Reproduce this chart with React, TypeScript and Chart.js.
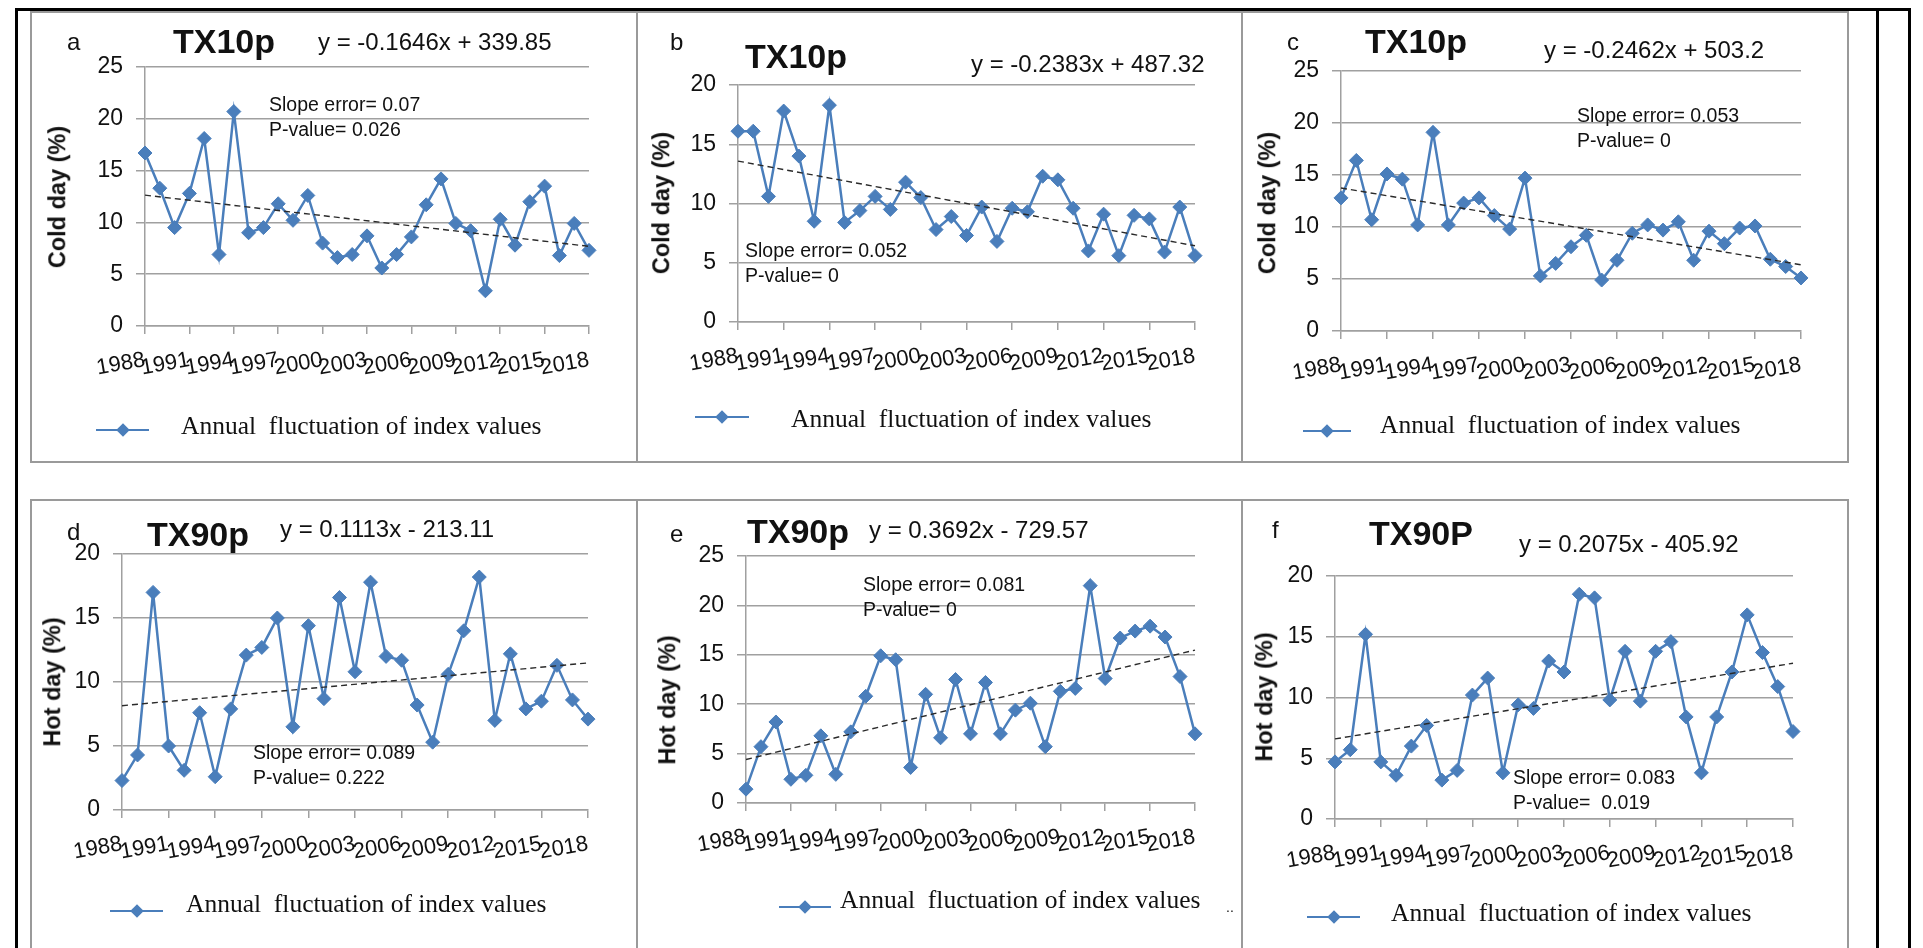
import React, { useEffect, useRef } from "react";
import { Chart, registerables } from "chart.js";
Chart.register(...registerables);

// ---------- DATA ----------
const years = [1988, 1989, 1990, 1991, 1992, 1993, 1994, 1995, 1996, 1997, 1998, 1999, 2000, 2001, 2002, 2003, 2004, 2005, 2006, 2007, 2008, 2009, 2010, 2011, 2012, 2013, 2014, 2015, 2016, 2017, 2018];

const coldA = [16.7, 13.3, 9.5, 12.8, 18.1, 6.9, 20.7, 9.0, 9.5, 11.8, 10.2, 12.6, 8.0, 6.6, 6.9, 8.7, 5.6, 6.9, 8.6, 11.7, 14.2, 9.9, 9.2, 3.4, 10.3, 7.8, 12.0, 13.5, 6.8, 9.9, 7.3];
const coldB = [16.1, 16.1, 10.6, 17.8, 14.0, 8.5, 18.3, 8.4, 9.4, 10.6, 9.5, 11.8, 10.5, 7.8, 8.9, 7.3, 9.7, 6.8, 9.6, 9.3, 12.3, 12.0, 9.6, 6.0, 9.1, 5.6, 9.0, 8.7, 5.9, 9.7, 5.6];
const coldC = [12.8, 16.4, 10.7, 15.1, 14.6, 10.2, 19.1, 10.2, 12.3, 12.8, 11.1, 9.8, 14.7, 5.3, 6.5, 8.1, 9.2, 4.9, 6.8, 9.4, 10.2, 9.7, 10.5, 6.8, 9.6, 8.4, 9.9, 10.1, 6.9, 6.2, 5.1];
const hotD = [2.3, 4.3, 17.0, 5.0, 3.1, 7.6, 2.6, 7.9, 12.1, 12.7, 15.0, 6.5, 14.4, 8.7, 16.6, 10.8, 17.8, 12.0, 11.7, 8.2, 5.3, 10.6, 14.0, 18.2, 7.0, 12.2, 7.9, 8.5, 11.3, 8.6, 7.1];
const hotE = [1.4, 5.7, 8.2, 2.4, 2.8, 6.8, 2.9, 7.2, 10.8, 14.9, 14.5, 3.6, 11.0, 6.6, 12.5, 7.0, 12.2, 7.0, 9.4, 10.1, 5.7, 11.3, 11.6, 22.0, 12.6, 16.7, 17.4, 17.9, 16.8, 12.8, 7.0];
const hotF = [4.7, 5.7, 15.2, 4.7, 3.6, 6.0, 7.7, 3.2, 4.0, 10.2, 11.6, 3.8, 9.4, 9.1, 13.0, 12.1, 18.5, 18.2, 9.8, 13.8, 9.7, 13.8, 14.6, 8.4, 3.8, 8.4, 12.1, 16.8, 13.7, 10.9, 7.2];

// linear trend values at first and last year
const trendA = [12.63, 7.69];
const trendB = [13.58, 6.43];
const trendC = [13.75, 6.37];
const trendD = [8.15, 11.49];
const trendE = [4.4, 15.48];
const trendF = [6.59, 12.82];

const yMaxes = [25, 20, 25, 20, 25, 20];

// ---------- STYLE ----------
const BLUE = "#4a7ebb";
const GRID = "#a0a0a0";
const SANS = "'Liberation Sans', Arial, sans-serif";
const SERIF = "'Liberation Serif', 'Times New Roman', serif";

type Panel = {
  box: { x: number; y: number; w: number; h: number };
  area: { l: number; r: number; t: number; b: number };
  yMax: number;
  values: number[];
  trend: number[];
  letter: string; letterPos: number[];
  title: string; titlePos: number[];
  eq: string; eqPos: number[];
  stats: string[]; statsPos: number[];
  yTitle: string; yTitlePos: number[];
  legendLine: number[]; legendText: number[];
};

const panels: Panel[] = [
  {
    box: { x: 30, y: 11, w: 608, h: 452 }, area: { l: 145, r: 589, t: 67, b: 326 }, yMax: yMaxes[0], values: coldA, trend: trendA,
    letter: "a", letterPos: [67, 50], title: "TX10p", titlePos: [173, 53], eq: "y = -0.1646x + 339.85", eqPos: [318, 50],
    stats: ["Slope error= 0.07", "P-value= 0.026"], statsPos: [269, 112], yTitle: "Cold day (%)", yTitlePos: [58, 197],
    legendLine: [96, 149, 430], legendText: [181, 435],
  },
  {
    box: { x: 636, y: 11, w: 607, h: 452 }, area: { l: 738, r: 1195, t: 85, b: 322 }, yMax: yMaxes[1], values: coldB, trend: trendB,
    letter: "b", letterPos: [670, 50], title: "TX10p", titlePos: [745, 68], eq: "y = -0.2383x + 487.32", eqPos: [971, 72],
    stats: ["Slope error= 0.052", "P-value= 0"], statsPos: [745, 258], yTitle: "Cold day (%)", yTitlePos: [662, 203],
    legendLine: [695, 749, 417], legendText: [791, 428],
  },
  {
    box: { x: 1241, y: 11, w: 608, h: 452 }, area: { l: 1341, r: 1801, t: 71, b: 331 }, yMax: yMaxes[2], values: coldC, trend: trendC,
    letter: "c", letterPos: [1287, 50], title: "TX10p", titlePos: [1365, 53], eq: "y = -0.2462x + 503.2", eqPos: [1544, 58],
    stats: ["Slope error= 0.053", "P-value= 0"], statsPos: [1577, 123], yTitle: "Cold day (%)", yTitlePos: [1268, 203],
    legendLine: [1303, 1351, 431], legendText: [1380, 434],
  },
  {
    box: { x: 30, y: 499, w: 608, h: 470 }, area: { l: 122, r: 588, t: 554, b: 810 }, yMax: yMaxes[3], values: hotD, trend: trendD,
    letter: "d", letterPos: [67, 540], title: "TX90p", titlePos: [147, 546], eq: "y = 0.1113x - 213.11", eqPos: [280, 537],
    stats: ["Slope error= 0.089", "P-value= 0.222"], statsPos: [253, 760], yTitle: "Hot day (%)", yTitlePos: [53, 682],
    legendLine: [110, 163, 911], legendText: [186, 913],
  },
  {
    box: { x: 636, y: 499, w: 607, h: 470 }, area: { l: 746, r: 1195, t: 556, b: 803 }, yMax: yMaxes[4], values: hotE, trend: trendE,
    letter: "e", letterPos: [670, 542], title: "TX90p", titlePos: [747, 543], eq: "y = 0.3692x - 729.57", eqPos: [869, 538],
    stats: ["Slope error= 0.081", "P-value= 0"], statsPos: [863, 592], yTitle: "Hot day (%)", yTitlePos: [668, 700],
    legendLine: [779, 831, 907], legendText: [840, 909],
  },
  {
    box: { x: 1241, y: 499, w: 608, h: 470 }, area: { l: 1335, r: 1793, t: 576, b: 819 }, yMax: yMaxes[5], values: hotF, trend: trendF,
    letter: "f", letterPos: [1272, 538], title: "TX90P", titlePos: [1369, 545], eq: "y = 0.2075x - 405.92", eqPos: [1519, 552],
    stats: ["Slope error= 0.083", "P-value=  0.019"], statsPos: [1513, 785], yTitle: "Hot day (%)", yTitlePos: [1265, 697],
    legendLine: [1307, 1360, 917], legendText: [1391, 922],
  },
];

const CANVAS_H = 448;

function PanelChart({ p }: { p: Panel }) {
  const ref = useRef<HTMLCanvasElement | null>(null);
  const ox = p.box.x + 2;
  const oy = p.box.y + 2;
  const cw = p.box.w - 4;
  useEffect(() => {
    if (!ref.current) return;
    const L = p.area.l - ox;
    const R = p.area.r - ox;
    const T = p.area.t - oy;
    const B = p.area.b - oy;
    const chart = new Chart(ref.current, {
      type: "line",
      data: {
        datasets: [
          {
            data: p.trend.map((v, i) => ({ x: i === 0 ? years[0] : years[years.length - 1], y: v })),
            borderColor: "#2a2a2a",
            borderWidth: 1.4,
            borderDash: [6, 4],
            pointRadius: 0,
            tension: 0,
            clip: false as any,
            order: 0,
          },
          {
            data: years.map((x, i) => ({ x, y: p.values[i] })),
            borderColor: BLUE,
            backgroundColor: BLUE,
            borderWidth: 2.5,
            pointStyle: "rectRot",
            pointRadius: 7,
            pointBorderWidth: 1,
            pointBackgroundColor: BLUE,
            pointBorderColor: BLUE,
            tension: 0,
            clip: false as any,
            order: 1,
          },
        ],
      },
      options: {
        responsive: false,
        animation: false,
        layout: { padding: { left: 0, top: T, right: cw - R, bottom: 0 } },
        plugins: { legend: { display: false }, tooltip: { enabled: false } },
        scales: {
          x: {
            type: "linear",
            min: years[0],
            max: years[years.length - 1],
            ticks: {
              stepSize: 3,
              autoSkip: false,
              minRotation: 10,
              maxRotation: 10,
              padding: 13,
              font: { family: SANS, size: 22 },
              color: "#111",
              callback: (v: any) => String(v),
            },
            grid: { drawOnChartArea: false, drawTicks: true, tickLength: 8, color: GRID, lineWidth: 1.5 },
            border: { color: GRID, width: 1.5 },
            afterFit: (s: any) => {
              s.height = CANVAS_H - B;
              s.paddingLeft = 0;
              s.paddingRight = 0;
            },
          },
          y: {
            min: 0,
            max: p.yMax,
            ticks: { stepSize: 5, padding: 13, font: { family: SANS, size: 23 }, color: "#111" },
            grid: { color: GRID, lineWidth: 1.5, tickLength: 9 },
            border: { color: GRID, width: 1.5 },
            afterFit: (s: any) => {
              s.width = L;
              s.paddingTop = 0;
              s.paddingBottom = 0;
            },
          },
        },
      } as any,
    });
    return () => chart.destroy();
  }, []);
  return (
    <canvas
      ref={ref}
      width={cw}
      height={CANVAS_H}
      style={{ position: "absolute", left: ox, top: oy, width: cw, height: CANVAS_H }}
    />
  );
}

function Txt({ x, base, size, text, bold, family }: { x: number; base: number; size: number; text: string; bold?: boolean; family?: string }) {
  return (
    <div
      style={{
        position: "absolute",
        left: x,
        top: base - 0.85 * size,
        fontSize: size,
        lineHeight: 1,
        fontFamily: family || SANS,
        fontWeight: bold ? 700 : 400,
        whiteSpace: "pre",
        color: "#111",
      }}
    >
      {text}
    </div>
  );
}

function PanelView({ p }: { p: Panel }) {
  const [l1, l2, ly] = p.legendLine;
  return (
    <>
      <div
        style={{
          position: "absolute",
          left: p.box.x,
          top: p.box.y,
          width: p.box.w,
          height: p.box.h,
          border: "2px solid #9a9a9a",
          boxSizing: "border-box",
        }}
      />
      <PanelChart p={p} />
      <Txt x={p.letterPos[0]} base={p.letterPos[1]} size={24} text={p.letter} />
      <Txt x={p.titlePos[0]} base={p.titlePos[1]} size={34} text={p.title} bold />
      <Txt x={p.eqPos[0]} base={p.eqPos[1]} size={24} text={p.eq} />
      <Txt x={p.statsPos[0]} base={p.statsPos[1]} size={19.5} text={p.stats[0]} />
      <Txt x={p.statsPos[0]} base={p.statsPos[1] + 25} size={19.5} text={p.stats[1]} />
      <div
        style={{
          position: "absolute",
          left: p.yTitlePos[0],
          top: p.yTitlePos[1],
          transform: "translate(-50%, -50%) rotate(-90deg)",
          fontFamily: SANS,
          fontWeight: 700,
          fontSize: 23.5,
          lineHeight: 1,
          whiteSpace: "nowrap",
          color: "#111",
        }}
      >
        {p.yTitle}
      </div>
      <div style={{ position: "absolute", left: l1, top: ly - 1.25, width: l2 - l1, height: 2.5, background: BLUE }} />
      <div
        style={{
          position: "absolute",
          left: (l1 + l2) / 2 - 6,
          top: ly - 6,
          width: 12,
          height: 12,
          background: BLUE,
          transform: "rotate(45deg) scale(0.8)",
        }}
      />
      <Txt x={p.legendText[0]} base={p.legendText[1]} size={25.5} text={"Annual  fluctuation of index values"} family={SERIF} />
    </>
  );
}

export default function App() {
  return (
    <div style={{ position: "absolute", left: 0, top: 0, width: 1923, height: 948, overflow: "hidden", background: "#fff" }}>
      {panels.map((p, i) => (
        <PanelView key={i} p={p} />
      ))}
      {/* outer frame lines */}
      <div style={{ position: "absolute", left: 15, top: 8, width: 1895, height: 2.5, background: "#000" }} />
      <div style={{ position: "absolute", left: 15, top: 8, width: 2.5, height: 960, background: "#000" }} />
      <div style={{ position: "absolute", left: 1876, top: 8, width: 2.5, height: 960, background: "#000" }} />
      <div style={{ position: "absolute", left: 1908, top: 8, width: 2.5, height: 960, background: "#000" }} />
      <Txt x={1226} base={912} size={14} text={".."} />
    </div>
  );
}
